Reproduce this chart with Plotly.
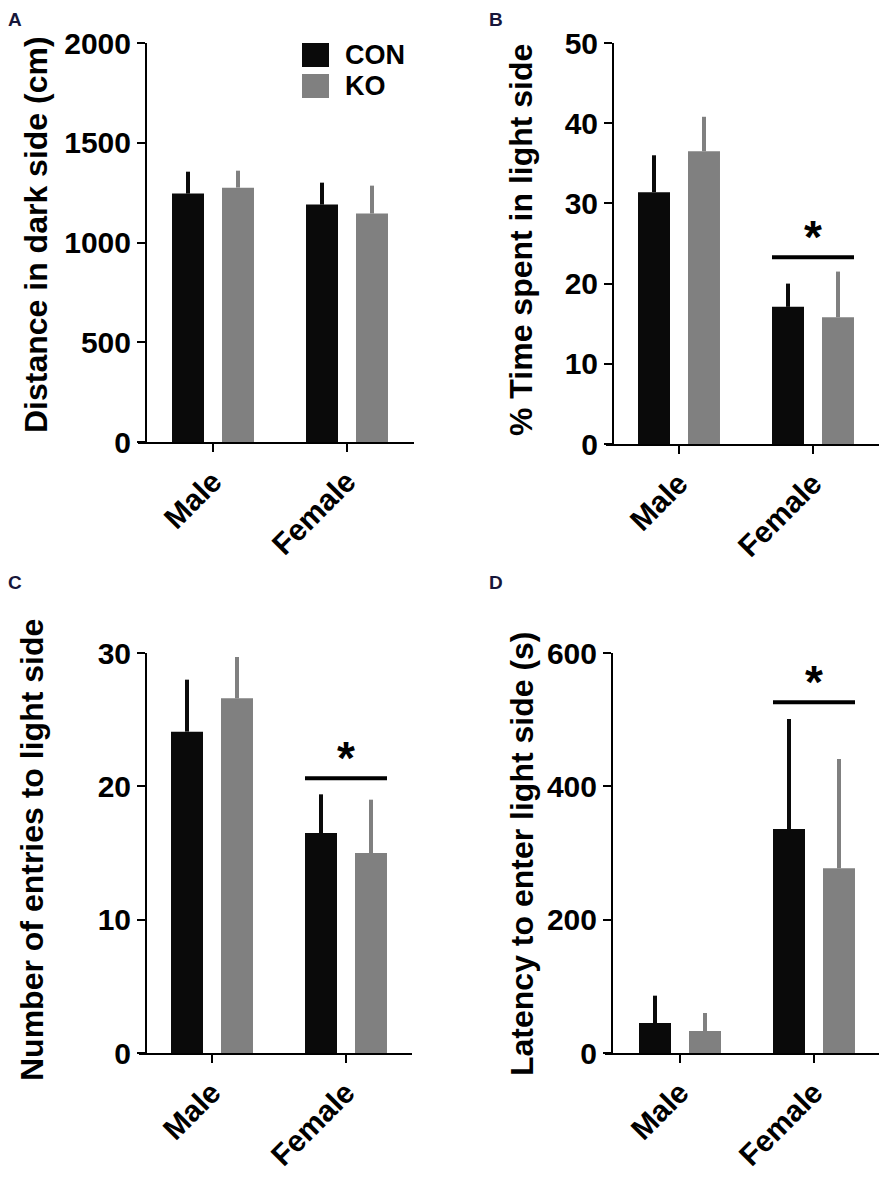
import plotly.graph_objects as go

# ---------------- data ----------------
categories = ["Male", "Female"]
groups = ["CON", "KO"]

dist_con = [1245, 1190]
dist_con_err = [110, 110]
dist_ko = [1275, 1145]
dist_ko_err = [85, 140]

time_con = [31.4, 17.1]
time_con_err = [4.6, 2.9]
time_ko = [36.5, 15.8]
time_ko_err = [4.3, 5.7]

entries_con = [24.1, 16.5]
entries_con_err = [3.9, 2.9]
entries_ko = [26.6, 15.0]
entries_ko_err = [3.1, 4.0]

latency_con = [45, 336]
latency_con_err = [41, 165]
latency_ko = [33, 277]
latency_ko_err = [27, 164]

y_titles = ["Distance in dark side (cm)", "% Time spent in light side",
            "Number of entries to light side", "Latency to enter light side (s)"]
y_ranges = [[0, 2000], [0, 50], [0, 30], [0, 600]]
y_dticks = [500, 10, 10, 200]
panel_letters = ["A", "B", "C", "D"]
sig_levels = [None, 23.3, 20.6, 526]   # significance bar level over Female
sig_text = "*"

# ---------------- style / layout ----------------
PAGE_W, PAGE_H = 892, 1177
OFF = 8                      # browser default body margin
W, H = PAGE_W - OFF, PAGE_H - OFF
CON_COLOR = "#0a0a0a"
KO_COLOR = "#808080"
FONT = "Liberation Sans, Arial, sans-serif"
LETTER_COLOR = "#16163a"


def px(xp):
    return (xp - OFF) / W


def py(yp):
    return 1 - (yp - OFF) / H


# page-pixel geometry per panel (ly = top of letter box)
geom = [
    dict(yx=146, xl=138, xr=414, top=43, bot=442, c0=213, unit=134, tx=36, ty=235, lx=15.5, ly=8),
    dict(yx=613, xl=606, xr=879, top=43, bot=444, c0=679, unit=134, tx=521, ty=240, lx=495.5, ly=8),
    dict(yx=146, xl=139, xr=412, top=653, bot=1053, c0=212, unit=134, tx=32, ty=850, lx=15, ly=571),
    dict(yx=612, xl=605, xr=879, top=653, bot=1053, c0=680, unit=134, tx=522, ty=854, lx=495.5, ly=571),
]

panels = [
    (dist_con, dist_con_err, dist_ko, dist_ko_err),
    (time_con, time_con_err, time_ko, time_ko_err),
    (entries_con, entries_con_err, entries_ko, entries_ko_err),
    (latency_con, latency_con_err, latency_ko, latency_ko_err),
]

fig = go.Figure()
layout = {}
annotations = []
shapes = []

for i, (g, (c, ce, k, ke)) in enumerate(zip(geom, panels)):
    n = "" if i == 0 else str(i + 1)
    xa, ya = "x" + n, "y" + n
    for vals, errs, name, col in [(c, ce, "CON", CON_COLOR), (k, ke, "KO", KO_COLOR)]:
        fig.add_trace(go.Bar(
            x=categories, y=vals, name=name, marker_color=col, marker_line_width=0,
            offsetgroup=name, xaxis=xa, yaxis=ya, showlegend=False,
            error_y=dict(type="data", symmetric=False, array=errs,
                         arrayminus=[0] * len(errs), color=col, thickness=4, width=0),
        ))
    xdom = [px(g["xl"]), px(g["xr"])]
    ydom = [py(g["bot"]), py(g["top"])]
    xr = [(g["xl"] - g["c0"]) / g["unit"], (g["xr"] - g["c0"]) / g["unit"]]
    layout["xaxis" + n] = dict(
        domain=xdom, range=xr, anchor=ya, type="category", automargin=False,
        showline=True, linecolor="black", linewidth=2,
        ticks="outside", ticklen=8, tickwidth=2, tickcolor="black",
        tickangle=-45, showgrid=False, zeroline=False,
        tickfont=dict(family=FONT, size=30, color="black", weight="bold"),
    )
    layout["yaxis" + n] = dict(
        domain=ydom, range=y_ranges[i], anchor="free", position=px(g["yx"]),
        automargin=False,
        dtick=y_dticks[i], showline=True, linecolor="black", linewidth=2,
        ticks="outside", ticklen=8, tickwidth=2, tickcolor="black",
        showgrid=False, zeroline=False,
        tickfont=dict(family=FONT, size=30, color="black", weight="bold"),
    )
    annotations.append(dict(
        text=y_titles[i], textangle=-90, xref="paper", yref="paper",
        x=px(g["tx"]), y=py(g["ty"]), xanchor="center", yanchor="middle",
        showarrow=False, font=dict(family=FONT, size=32, color="black", weight="bold"),
    ))
    annotations.append(dict(
        text=panel_letters[i], xref="paper", yref="paper",
        x=px(g["lx"]), y=py(g["ly"]), xanchor="center", yanchor="top",
        showarrow=False, borderpad=0,
        font=dict(family=FONT, size=19, color=LETTER_COLOR, weight="bold"),
    ))
    if sig_levels[i] is not None:
        half = 0.306
        shapes.append(dict(type="line", xref=xa, yref=ya,
                           x0=1 - half, x1=1 + half, y0=sig_levels[i], y1=sig_levels[i],
                           line=dict(color="black", width=4)))
        annotations.append(dict(
            text=sig_text, xref=xa, yref=ya, x=categories[1], y=sig_levels[i],
            xanchor="center", yanchor="bottom", yshift=-8, showarrow=False,
            font=dict(family=FONT, size=46, color="black", weight="bold"),
        ))

# manual legend in panel A
for name, col, top in [("CON", CON_COLOR, 43), ("KO", KO_COLOR, 74)]:
    shapes.append(dict(type="rect", xref="paper", yref="paper",
                       x0=px(302), x1=px(329), y0=py(top + 24), y1=py(top),
                       fillcolor=col, line=dict(width=0)))
    annotations.append(dict(
        text=name, xref="paper", yref="paper", x=px(343), y=py(top + 12),
        xanchor="left", yanchor="middle", showarrow=False,
        font=dict(family=FONT, size=27, color="black", weight="bold"),
    ))

fig.update_layout(
    width=W, height=H, margin=dict(l=0, r=0, t=0, b=0, autoexpand=False),
    paper_bgcolor="white", plot_bgcolor="white",
    barmode="group", bargap=0.254, bargroupgap=0.36,
    annotations=annotations, shapes=shapes, showlegend=False,
    **layout,
)

fig.write_html("out.html")
